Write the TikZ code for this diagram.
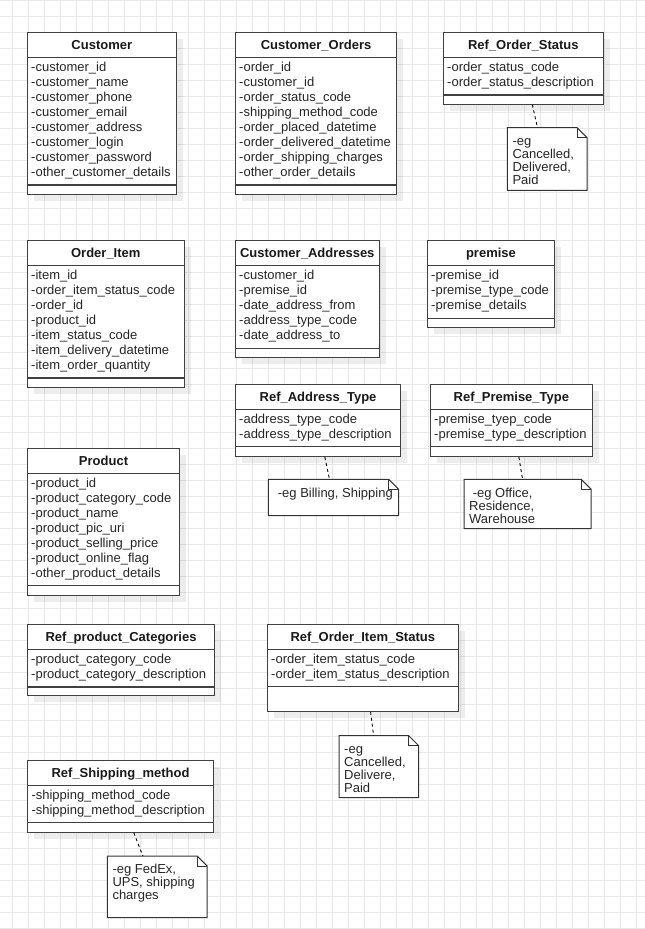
\documentclass[tikz,border=0pt]{standalone}
\usepackage{fontspec}
\setmainfont{Liberation Sans}[Ligatures=NoCommon]
\usetikzlibrary{shadows}

% strut that fixes the height of the first line of a text block
\newcommand\firstlinestrut{\rule{0pt}{10.5pt}}

\tikzset{
  gridline/.style={draw=black!9, line width=0.9pt},
  classbox/.style={draw=black!75, line width=1.1pt, fill=white, inner sep=0pt,
    drop shadow={shadow xshift=6.5pt, shadow yshift=-6.5pt, fill=black, opacity=0.07}},
  classline/.style={draw=black!75, line width=1.1pt},
  classtitle/.style={font=\bfseries\fontsize{13}{15}\selectfont, inner sep=0pt, text=black!90},
  classattrs/.style={font=\fontsize{13}{15}\selectfont, align=left, inner sep=0pt, text=black!85},
  notebox/.style={draw=none, inner sep=0pt},
  noteline/.style={draw=black!80, line width=1pt, fill=white},
  notetext/.style={font=\fontsize{13}{13}\selectfont, align=left, inner sep=0pt, text=black!85},
  notelink/.style={draw=black, line width=0.9pt, dashed},
}

% UML class: name, x, y, width, height, separator offset, title, attributes
\newcommand\umlclass[8]{%
  \node[classbox, minimum width=#4pt, minimum height=#5pt, anchor=north west] (#1) at (#2,#3) {};
  \draw[classline] ([yshift=-25.5pt]#1.north west) -- ([yshift=-25.5pt]#1.north east);
  \draw[classline] ([yshift=-#6pt]#1.north west) -- ([yshift=-#6pt]#1.north east);
  \node[classtitle, anchor=base] (#1-title) at ([yshift=-17.5pt]#1.north) {#7};
  \node[classattrs, anchor=north west] (#1-attrs) at ([xshift=4pt,yshift=-28.5pt]#1.north west) {\firstlinestrut#8};
}

% folded note: name, x, y, width, height, text x offset, text
\newcommand\umlnote[7]{%
  \node[notebox, minimum width=#4pt, minimum height=#5pt, anchor=north west] (#1) at (#2,#3) {};
  \filldraw[noteline] (#1.north west) -- ([xshift=-10pt]#1.north east) -- ([yshift=-10pt]#1.north east)
    -- (#1.south east) -- (#1.south west) -- cycle;
  \draw[noteline, fill=none] ([xshift=-10pt]#1.north east) -- ([xshift=-10pt,yshift=-10pt]#1.north east)
    -- ([yshift=-10pt]#1.north east);
  \node[notetext, anchor=north west] (#1-text) at ([xshift=#6pt,yshift=-7pt]#1.north west) {\firstlinestrut#7};
}

\begin{document}
\begin{tikzpicture}[x=1pt, y=-1pt]
  \useasboundingbox (0,0) rectangle (645,929);
  \fill[white] (0,0) rectangle (645,929);

  % background grid
  \foreach \gx in {12,28,...,636} \draw[gridline] (\gx,0) -- (\gx,929);
  \foreach \gy in {0,16,...,928} \draw[gridline] (0,\gy) -- (645,\gy);

  % classes
  \umlclass{customer}{27}{32}{148.5}{161.5}{153}{Customer}
    {-customer\_id\\-customer\_name\\-customer\_phone\\-customer\_email\\-customer\_address\\-customer\_login\\-customer\_password\\-other\_customer\_details}
  \umlclass{corders}{235}{32}{161}{161.5}{153}{Customer\_Orders}
    {-order\_id\\-customer\_id\\-order\_status\_code\\-shipping\_method\_code\\-order\_placed\_datetime\\-order\_delivered\_datetime\\-order\_shipping\_charges\\-other\_order\_details}
  \umlclass{rostatus}{443}{32}{159.5}{71.5}{63}{Ref\_Order\_Status}
    {-order\_status\_code\\-order\_status\_description}
  \umlclass{oitem}{27}{240}{156.5}{147}{138}{Order\_Item}
    {-item\_id\\-order\_item\_status\_code\\-order\_id\\-product\_id\\-item\_status\_code\\-item\_delivery\_datetime\\-item\_order\_quantity}
  \umlclass{caddr}{235}{240}{143.5}{116.5}{108.3}{Customer\_Addresses}
    {-customer\_id\\-premise\_id\\-date\_address\_from\\-address\_type\_code\\-date\_address\_to}
  \umlclass{premise}{427}{240}{126.8}{86.5}{78.3}{premise}
    {-premise\_id\\-premise\_type\_code\\-premise\_details}
  \umlclass{raddr}{235}{384}{165}{72}{62.7}{Ref\_Address\_Type}
    {-address\_type\_code\\-address\_type\_description}
  \umlclass{rpremise}{430}{384}{161.7}{72}{62.7}{Ref\_Premise\_Type}
    {-premise\_tyep\_code\\-premise\_type\_description}
  \umlclass{product}{27}{448}{152}{146.5}{137.5}{Product}
    {-product\_id\\-product\_category\_code\\-product\_name\\-product\_pic\_uri\\-product\_selling\_price\\-product\_online\_flag\\-other\_product\_details}
  \umlclass{rcat}{27}{624}{187}{71}{63}{Ref\_product\_Categories}
    {-product\_category\_code\\-product\_category\_description}
  \umlclass{roistatus}{267}{624}{190.5}{86.7}{62.7}{Ref\_Order\_Item\_Status}
    {-order\_item\_status\_code\\-order\_item\_status\_description}
  \umlclass{rship}{27.3}{760}{185.4}{71.7}{62.7}{Ref\_Shipping\_method}
    {-shipping\_method\_code\\-shipping\_method\_description}

  % notes
  \umlnote{rostatusnote}{507.3}{127.7}{79.4}{62.3}{5}{-eg\\Cancelled,\\Delivered,\\Paid}
  \umlnote{raddrnote}{268.3}{479.3}{130}{36}{9.4}{-eg Billing, Shipping}
  \umlnote{rpremisenote}{464}{479.3}{126.7}{49}{5}{\ -eg Office,\\Residence,\\Warehouse}
  \umlnote{roistatusnote}{339}{735.7}{79.3}{61.6}{5}{-eg\\Cancelled,\\Delivere,\\Paid}
  \umlnote{rshipnote}{107.3}{856}{99.4}{61.3}{5}{-eg FedEx,\\UPS, shipping\\charges}

  % note links
  \draw[notelink] ([xshift=9pt]rostatus.south) -- ([xshift=-9.7pt]rostatusnote.north);
  \draw[notelink] ([xshift=6.8pt]raddr.south) -- ([xshift=-4pt]raddrnote.north);
  \draw[notelink] ([xshift=7.5pt]rpremise.south) -- ([xshift=-5pt]rpremisenote.north);
  \draw[notelink] ([xshift=7.75pt]roistatus.south) -- ([xshift=-5.2pt]roistatusnote.north);
  \draw[notelink] ([xshift=13.3pt]rship.south) -- ([xshift=-14.3pt]rshipnote.north);
\end{tikzpicture}
\end{document}
